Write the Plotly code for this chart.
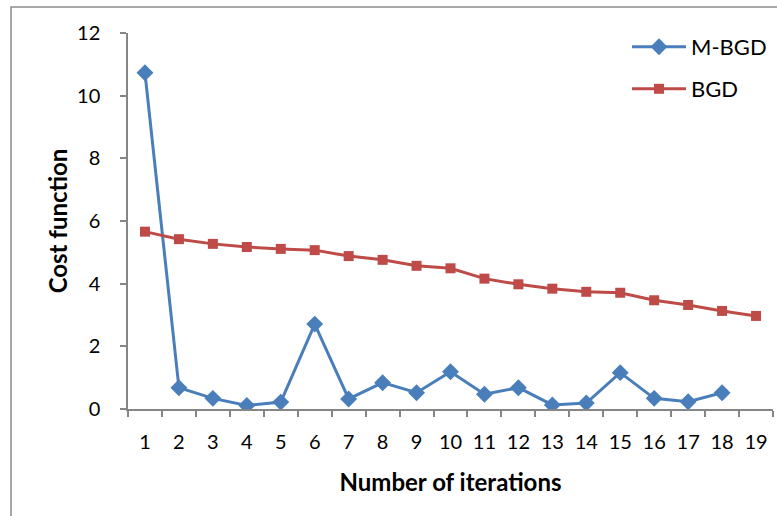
import plotly.graph_objects as go

iterations = [str(i) for i in range(1, 20)]
mbgd = [10.73, 0.68, 0.34, 0.11, 0.22, 2.71, 0.32, 0.84, 0.52, 1.19,
        0.47, 0.68, 0.13, 0.19, 1.16, 0.34, 0.23, 0.52, None]
bgd = [5.66, 5.42, 5.27, 5.17, 5.11, 5.07, 4.88, 4.76, 4.57, 4.49,
       4.16, 3.98, 3.84, 3.74, 3.71, 3.47, 3.32, 3.13, 2.97]

W, H = 777, 516
L, R, T, B = 128, 4, 33, 107
pw, ph = W - L - R, H - T - B

FONT = "Lato"
blue = "#4A7EBB"
red = "#BE4B48"
axis_col = "#868686"

fig = go.Figure()
fig.add_trace(go.Scatter(x=iterations, y=mbgd, name="M-BGD", mode="lines+markers",
                         line=dict(color=blue, width=3),
                         marker=dict(symbol="diamond", size=13, color=blue),
                         legend="legend"))
fig.add_trace(go.Scatter(x=iterations, y=bgd, name="BGD", mode="lines+markers",
                         line=dict(color=red, width=3),
                         marker=dict(symbol="square", size=10, color=red),
                         legend="legend2"))

def px_x(x):
    return (x - L) / pw

def px_y(y):
    return (H - B - y) / ph

leg_common = dict(xanchor="left", yanchor="middle", bgcolor="rgba(0,0,0,0)",
                  font=dict(family=FONT, size=22, color="#000"), itemwidth=54,
                  borderwidth=0, visible=True)
fig.update_layout(
    width=W, height=H,
    showlegend=True,
    margin=dict(l=L, r=R, t=T, b=B, pad=0),
    paper_bgcolor="white", plot_bgcolor="white",
    font=dict(family=FONT, size=20, color="#000"),
    legend=dict(x=px_x(627), y=px_y(47), **leg_common),
    legend2=dict(x=px_x(627), y=px_y(89), **leg_common),
    xaxis=dict(type="category", tickson="boundaries", ticks="outside", ticklen=6,
               range=[-0.5, len(iterations) - 0.5], autorange=False,
               tickcolor=axis_col, tickwidth=1.5, showline=True, linecolor=axis_col,
               linewidth=1.5, showgrid=False, zeroline=False, tickangle=0,
               ticklabelstandoff=14,
               tickfont=dict(family=FONT, size=20, color="#000"),
               title=dict(text="<b>Number of iterations</b>", standoff=22,
                          font=dict(family=FONT, size=24, color="#000"))),
    yaxis=dict(range=[0, 12], dtick=2, ticks="outside", ticklen=6, tickcolor=axis_col,
               tickwidth=1.5, showline=True, linecolor=axis_col, linewidth=1.5,
               showgrid=False, zeroline=False, ticklabelstandoff=16,
               tickfont=dict(family=FONT, size=20, color="#000"),
               title=dict(text="<b>Cost function</b>", standoff=3,
                          font=dict(family=FONT, size=24, color="#000"))),
)

fig.add_shape(type="rect", xref="paper", yref="paper",
              x0=px_x(11), x1=px_x(W + 20), y0=px_y(H + 20), y1=px_y(7),
              line=dict(color="#8c8c8c", width=1.5), fillcolor="rgba(0,0,0,0)",
              layer="below")

fig.write_html("out.html", config={"displayModeBar": False},
               post_script="document.body.style.margin='0';document.body.style.overflow='hidden';")
